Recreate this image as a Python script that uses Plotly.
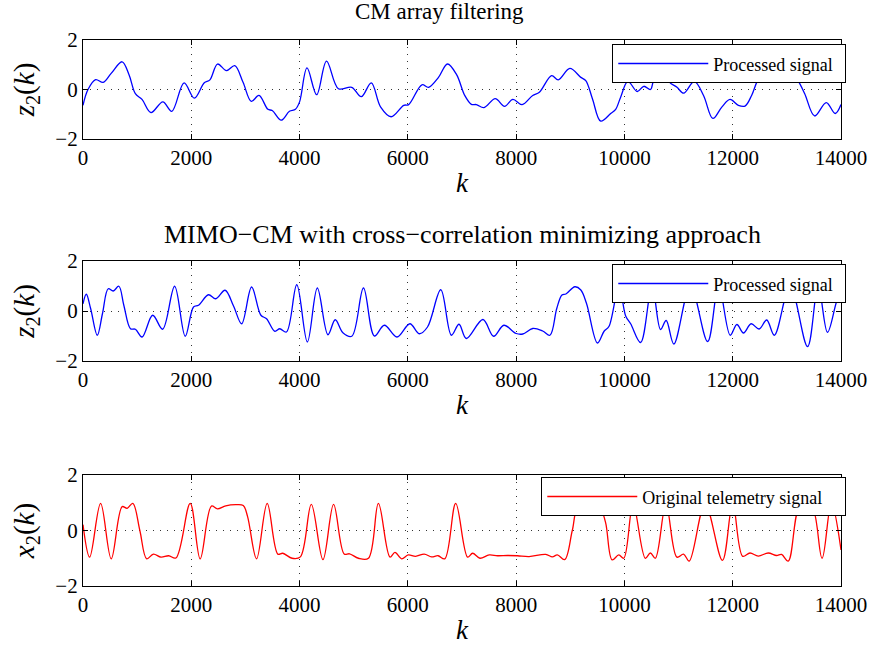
import plotly.graph_objects as go

# ---------------- data ----------------
k1 = [0, 92, 233, 373, 520, 722, 850, 967, 1090, 1255, 1475, 1640, 1867, 2057, 2240, 2344, 2485, 2650, 2803,
      2956, 3109, 3250, 3415, 3495, 3660, 3813, 3923, 4000, 4137, 4315, 4498, 4718, 4963, 5140, 5324, 5495,
      5691, 5924, 6015, 6260, 6383, 6566, 6731, 6900, 7050, 7173, 7265, 7406, 7614, 7786, 7939, 8110, 8306,
      8429, 8655, 8778, 8992, 9195, 9286, 9409, 9562, 9746, 9838, 9930, 10064, 10236, 10358, 10481, 10542,
      10690, 10830, 10971, 11094, 11290, 11461, 11633, 11798, 11951, 12104, 12227, 12349, 12459, 12650,
      12850, 13030, 13207, 13330, 13513, 13728, 13893, 14000]
z1 = [-0.64, 0.0, 0.40, 0.29, 0.65, 1.12, 0.60, -0.17, -0.40, -0.93, -0.50, -0.88, 0.27, -0.35, 0.27, 0.39,
      1.03, 0.76, 0.96, 0.29, -0.48, -0.24, -0.80, -0.85, -1.24, -0.88, -0.80, -0.50, 0.87, -0.21, 1.15, 0.03,
      0.09, -0.29, 0.27, -0.70, -1.10, -0.64, -0.61, 0.19, 0.09, 0.49, 1.03, 0.60, -0.24, -0.60, -0.61, -0.73,
      -0.37, -0.68, -0.40, -0.61, -0.24, -0.11, 0.56, 0.39, 0.85, 0.49, 0.36, -0.37, -1.28, -0.97, -0.80,
      -0.31, 0.33, -0.08, 0.13, 0.0, 0.40, 0.90, 0.30, 0.09, -0.15, 0.33, -0.24, -1.17, -0.71, -0.40, -0.64,
      -0.67, -0.24, 0.36, 0.95, 0.70, 0.90, 0.36, -0.17, -1.07, -0.53, -0.97, -0.61]

k2 = [0, 61, 141, 264, 360, 466, 558, 662, 754, 877, 968, 1091, 1287, 1471, 1692, 1888, 2041, 2133, 2317,
      2452, 2624, 2780, 2930, 3114, 3286, 3390, 3543, 3635, 3758, 3948, 4144, 4328, 4524, 4659, 4800, 4965,
      5180, 5382, 5566, 5799, 6038, 6210, 6363, 6608, 6804, 6945, 7080, 7387, 7583, 7773, 8000, 8123, 8306,
      8490, 8625, 8750, 8846, 8919, 9085, 9195, 9300, 9502, 9624, 9716, 9900, 10023, 10115, 10299, 10510,
      10667, 10771, 10912, 11220, 11537, 11740, 11954, 12077, 12199, 12340, 12487, 12628, 12769, 13060,
      13382, 13578, 13750, 13915, 14000]
z2 = [0.29, 0.67, 0.10, -0.97, -0.10, 0.89, 0.80, 0.99, 0.23, -0.71, -0.73, -1.04, -0.17, -0.73, 0.99, -1.01,
      0.16, 0.23, 0.65, 0.49, 0.83, 0.20, -0.51, 0.96, -0.17, -0.31, -0.81, -0.71, -0.84, 1.05, -1.24, 0.92,
      -0.95, -0.35, -0.87, -1.01, 0.92, -1.00, -0.57, -1.04, -0.51, -0.91, -0.64, 0.85, -0.97, -0.53, -1.10,
      -0.34, -1.01, -0.57, -0.90, -0.92, -0.70, -0.80, -0.97, 0.10, 0.64, 0.68, 0.97, 0.84, 0.30, -1.28,
      -0.81, -0.61, 1.00, -0.20, -0.51, -1.26, 1.00, -0.74, -0.38, -1.32, 1.00, -1.22, 1.00, -0.97, -0.54,
      -0.88, -0.51, -0.72, -0.36, -0.97, 1.00, -1.42, 1.00, -0.85, 0.35, 0.80]

k3 = [0, 123, 325, 521, 723, 815, 920, 1050, 1177, 1300, 1441, 1582, 1716, 1980, 2164, 2372, 2483, 2636, 2820,
      2960, 3040, 3206, 3402, 3598, 3690, 3862, 4015, 4217, 4432, 4628, 4824, 4922, 5088, 5272, 5456, 5670,
      5762, 5885, 6007, 6142, 6302, 6437, 6559, 6682, 6884, 7104, 7196, 7331, 7503, 7656, 7840, 8025, 8239,
      8546, 8669, 8761, 8896, 9037, 9150, 9350, 9530, 9650, 9773, 9896, 9988, 10160, 10386, 10479, 10571,
      10767, 10969, 11092, 11196, 11490, 11810, 12000, 12184, 12319, 12472, 12656, 12810, 12902, 13025,
      13250, 13450, 13650, 13822, 14000]
x3 = [0.21, -0.96, 0.98, -1.02, 0.86, 0.80, 0.98, 0.0, -1.02, -0.85, -0.96, -0.91, -0.99, 0.98, -1.02, 0.88,
      0.78, 0.89, 0.93, 0.90, 0.50, -1.02, 0.98, -0.85, -0.82, -1.00, -0.95, 0.94, -1.05, 0.94, -0.85, -0.84,
      -1.00, -1.00, 0.98, -0.96, -0.79, -1.02, -0.88, -0.93, -0.85, -0.95, -0.91, -1.02, 0.98, -0.96, -0.82,
      -1.00, -0.88, -0.91, -0.90, -0.91, -0.94, -0.86, -0.95, -0.88, -1.05, 0.0, 0.90, 0.95, 0.90, 0.30,
      -1.06, -0.88, -1.00, 0.95, -1.00, -0.81, -1.00, 0.95, -0.96, -0.85, -1.10, 0.95, -1.08, 0.98, -0.93,
      -0.81, -0.92, -0.81, -0.90, -0.86, -1.10, 0.95, 0.95, -1.00, 0.98, -0.70]

x_ticks = [0, 2000, 4000, 6000, 8000, 10000, 12000, 14000]
y_ticks = [-2, 0, 2]
titles = ["CM array filtering", "MIMO\u2212CM with cross\u2212correlation minimizing approach"]
legend_names = ["Processed signal", "Processed signal", "Original telemetry signal"]
ylabels = ["<i>z</i><sub>2</sub>(<i>k</i>)", "<i>z</i><sub>2</sub>(<i>k</i>)", "<i>x</i><sub>2</sub>(<i>k</i>)"]

# ---------------- layout geometry (pixels) ----------------
W, H = 879, 655
L, R, T, B = 83, 34, 40, 69
PW, PH = W - L - R, H - T - B
FONT = "Liberation Serif"
panels_px = [(40, 139), (261, 361), (475, 586)]


def py(y):  # pixel y -> paper y
    return 1 - (y - T) / PH


def px(x):
    return (x - L) / PW


fig = go.Figure()
series = [(k1, z1, "blue", "legend"), (k2, z2, "blue", "legend2"), (k3, x3, "red", "legend3")]
for i, (kk, vv, col, lg) in enumerate(series):
    n = "" if i == 0 else str(i + 1)
    fig.add_trace(go.Scatter(x=kk, y=vv, mode="lines", name=legend_names[i],
                             line=dict(color=col, width=1.3, shape="spline", smoothing=1.0),
                             xaxis="x" + n, yaxis="y" + n, legend=lg, showlegend=True))

axis_common = dict(showline=True, linecolor="black", linewidth=1.3, mirror="allticks",
                   ticks="inside", ticklen=5, tickcolor="black", showgrid=True,
                   gridcolor="rgba(0,0,0,0.8)", griddash="1px,6px", gridwidth=1.2, zeroline=False,
                   tickfont=dict(family=FONT, size=21, color="black"))

layout = dict(width=W, height=H, margin=dict(l=L, r=R, t=T, b=B), plot_bgcolor="white",
              paper_bgcolor="white", font=dict(family=FONT, color="black"), annotations=[])
for i, (top, bot) in enumerate(panels_px):
    n = "" if i == 0 else str(i + 1)
    layout["xaxis" + n] = dict(axis_common, domain=[0, 1], anchor="y" + n, range=[0, 14000],
                               tickvals=x_ticks, ticktext=[str(v) for v in x_ticks],
                               title=dict(text="<i>k</i>", font=dict(family=FONT, size=27), standoff=3))
    layout["yaxis" + n] = dict(axis_common, domain=[py(bot), py(top)], anchor="x" + n, range=[-2, 2],
                               tickvals=y_ticks, ticktext=["\u22122", "0", "2"],
                               title=dict(text=ylabels[i], font=dict(family=FONT, size=29), standoff=12))

legend_common = dict(bgcolor="white", bordercolor="black", borderwidth=1.3, xanchor="right", yanchor="top",
                     orientation="h", entrywidthmode="pixels",
                     font=dict(family=FONT, size=18, color="black"), itemwidth=90, tracegroupgap=0)
layout["legend"] = dict(legend_common, x=px(850), y=py(44), entrywidth=126)
layout["legend2"] = dict(legend_common, x=px(850), y=py(264), entrywidth=126)
layout["legend3"] = dict(legend_common, x=px(850), y=py(477), entrywidth=197)

layout["annotations"] = [
    dict(text=titles[0], x=px(441), y=py(12), xref="paper", yref="paper", showarrow=False,
         font=dict(family=FONT, size=23), xanchor="center", yanchor="middle"),
    dict(text=titles[1], x=px(465), y=py(234), xref="paper", yref="paper", showarrow=False,
         font=dict(family=FONT, size=26), xanchor="center", yanchor="middle"),
]
fig.update_layout(**layout)
fig.write_html("out.html")
